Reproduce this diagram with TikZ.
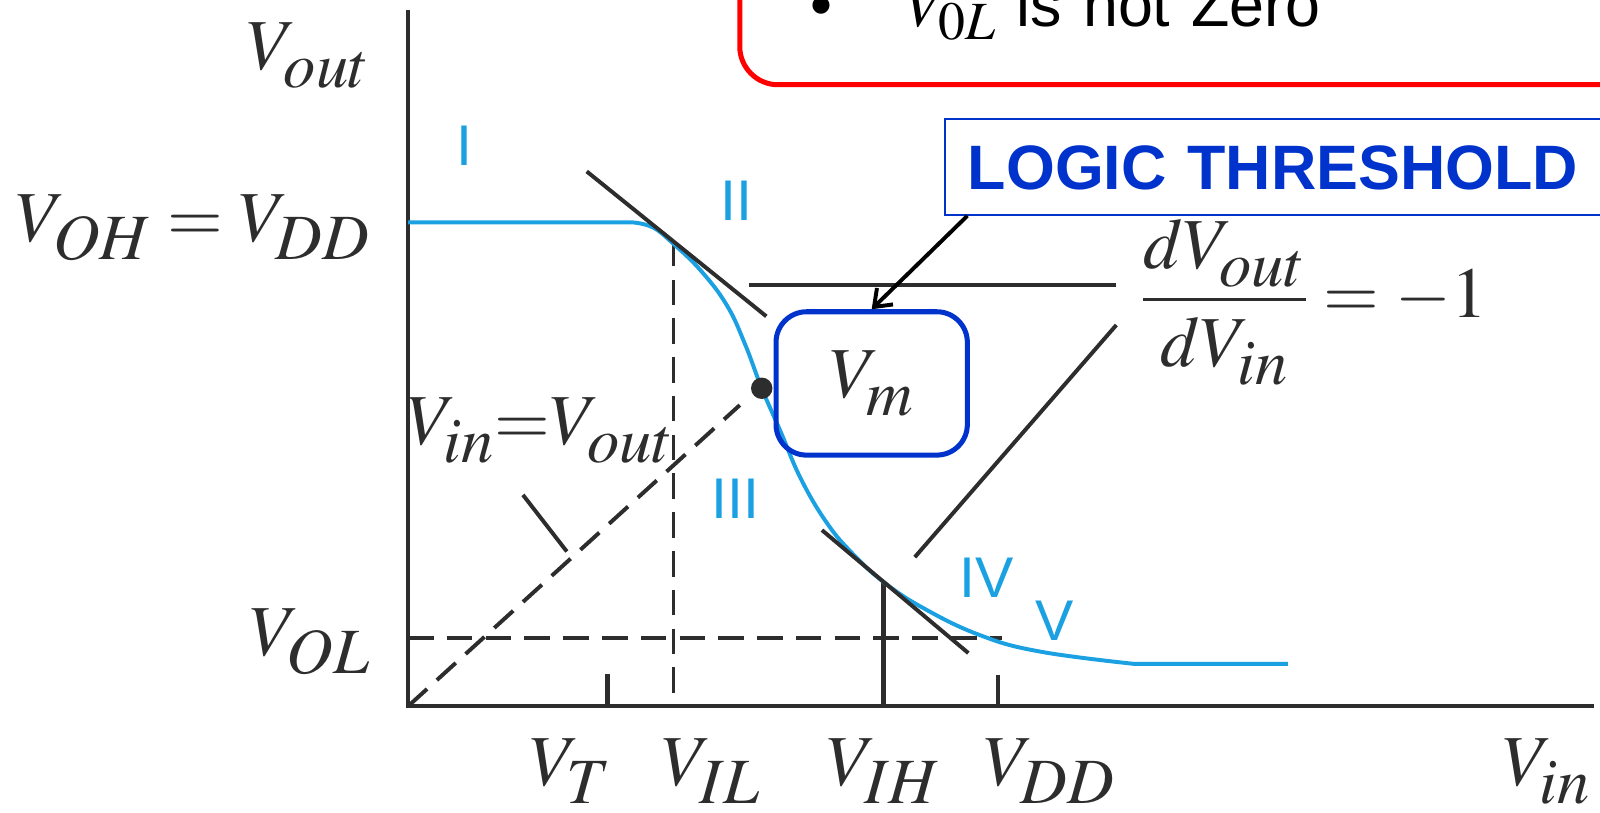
\documentclass[tikz,border=0pt]{standalone}
\usepackage{mathptmx}
\usepackage[no-math]{fontspec}
\setsansfont{Liberation Sans}
\usepackage{tikz}
\usetikzlibrary{arrows.meta, positioning, calc}
\definecolor{curveblue}{RGB}{27, 161, 226}
\definecolor{boxblue}{RGB}{0, 51, 204}
\definecolor{alertred}{RGB}{255, 0, 0}
\definecolor{axisgray}{RGB}{45, 45, 45}
\DeclareMathSizes{40}{40}{36}{28}
\DeclareMathSizes{35}{35}{30}{24}
\newcommand{\biglabel}{\fontsize{40}{48}\selectfont}
\newcommand{\lowsub}[2][0.14cm]{_{\raisebox{-#1}{\smash{$\scriptstyle #2$}}}}
\tikzset{
    axis/.style={line width=2.6pt, axisgray},
    guide/.style={line width=2.2pt, axisgray, dash pattern=on 0.5cm off 0.26cm},
    tangent/.style={line width=2.2pt, axisgray},
    pointer/.style={line width=2.2pt, axisgray},
    vtc/.style={line width=2.2pt, curveblue},
    region/.style={curveblue, font=\sffamily\fontsize{32}{38}\selectfont},
    vlabel/.style={text=axisgray, font=\biglabel, inner sep=0pt},
}

\begin{document}
\begin{tikzpicture}
        \useasboundingbox (-8,-2.08) rectangle (23.36,13.84);

        % Axes and ticks
        \draw[axis] (0,13.64) -- (0,0) -- (23.24,0);
        \draw[axis] (3.91,0) -- (3.91,0.63);
        \draw[axis] (11.56,0) -- (11.56,0.61);
        \draw[axis] (9.31,0) -- (9.31,2.44);

        % Dashed guides
        \draw[guide] (0,0) -- (6.5,5.9);
        \draw[guide] (0,1.33) -- (11.63,1.33);
        \draw[guide] (5.2,0.26) -- (5.2,9.06);

        % Transfer curve
        \draw[vtc] (0,9.48) -- plot [smooth, tension=0.7] coordinates {(4.41,9.48) (4.8,9.38) (5.2,9.06) (5.75,8.52) (6.25,7.85) (6.6,7.1) (6.93,6.23) (7.3,5.38) (7.7,4.45) (8.2,3.6) (8.7,3.0) (9.31,2.44) (10.1,1.92) (11.21,1.39) (12.38,1.07) (14.21,0.83)} -- (17.24,0.83);

        % Slope -1 tangents
        \draw[tangent] (3.5,10.48) -- (7.02,7.64);
        \draw[tangent] (8.11,3.45) -- (10.98,1.04);

        % Switching point
        \coordinate (vmpt) at (6.93,6.23);
        \fill[axisgray] (vmpt) circle (0.21);

        % Axis labels
        \node[vlabel, anchor=base east] (vout) at (-0.74,12.47) {$V\lowsub{out}$};
        \node[vlabel, anchor=base east] (voh) at (-0.74,9.1) {$V\lowsub{OH} = V\lowsub{DD}$};
        \node[vlabel, anchor=base east] (vol) at (-0.74,1.0) {$V\lowsub{OL}$};
        \node[vlabel, anchor=base] (vt) at (3.18,-1.56) {$V\lowsub{T}$};
        \node[vlabel, anchor=base] (vil) at (5.95,-1.56) {$V\lowsub{IL}$};
        \node[vlabel, anchor=base] (vih) at (9.33,-1.56) {$V\lowsub{IH}$};
        \node[vlabel, anchor=base] (vdd) at (12.57,-1.56) {$V\lowsub{DD}$};
        \node[vlabel, anchor=base] (vin) at (22.32,-1.56) {$V\lowsub{in}$};

        % Regions
        \node[region] (r1) at (1.1,10.98) {I};
        \node[region] (r2) at (6.44,9.9) {II};
        \node[region] (r3) at (6.42,4.06) {III};
        \node[region] (r4) at (11.33,2.52) {IV};
        \node[region] (r5) at (12.67,1.67) {V};

        % Unity line label
        \node[vlabel, anchor=base west] (diag) at (-0.03,5.12) {$V\lowsub{in}{=}V\lowsub{out}$};
        \draw[pointer] ($(diag.base west)+(2.28,-0.98)$) -- ++(0.86,-1.11);

        % Slope label
        \coordinate (tanhi) at (6.69,8.25);
        \coordinate (tanlo) at (9.93,2.92);
        \node[vlabel, anchor=base west, inner xsep=0.48cm] (slope) at (13.88,7.62) {$\displaystyle\frac{dV\lowsub{out}}{dV\lowsub{in}} = -1$};
        \draw[pointer] ([yshift=0.63cm]slope.base west) -- (tanhi);
        \draw[pointer] ([yshift=-0.15cm]slope.base west) -- (tanlo);

        % Logic threshold callout
        \node[vlabel, draw=boxblue, line width=2.8pt, rounded corners=0.6cm, minimum width=3.75cm, minimum height=2.81cm] (vm) at (9.085,6.325) {$V\lowsub{m}$};
        \node[draw=boxblue, fill=white, line width=1.2pt, text=boxblue, font=\sffamily\bfseries\fontsize{35}{42}\selectfont, anchor=south west, text width=13cm, align=left, inner xsep=0.45cm, inner ysep=0.49cm, text height=0.9cm, text depth=0pt] (logic) at (10.5,9.61) {LOGIC THRESHOLD};
        \draw[line width=2.2pt, -{Straight Barb[length=0.3cm, width=0.45cm]}] ([xshift=0.46cm]logic.south west) -- (vm.north);

        % Note box
        \node[draw=alertred, line width=2.8pt, rounded corners=0.75cm, anchor=south west, text width=16cm, align=left, inner xsep=1.38cm, inner ysep=1.15cm, text depth=0pt, font=\sffamily\fontsize{35}{42}\selectfont] (note) at (6.45,12.13) {\textbullet\hspace{1.45cm}$V\lowsub[0.08cm]{0L}$ is not Zero};
    \end{tikzpicture}
\end{document}
